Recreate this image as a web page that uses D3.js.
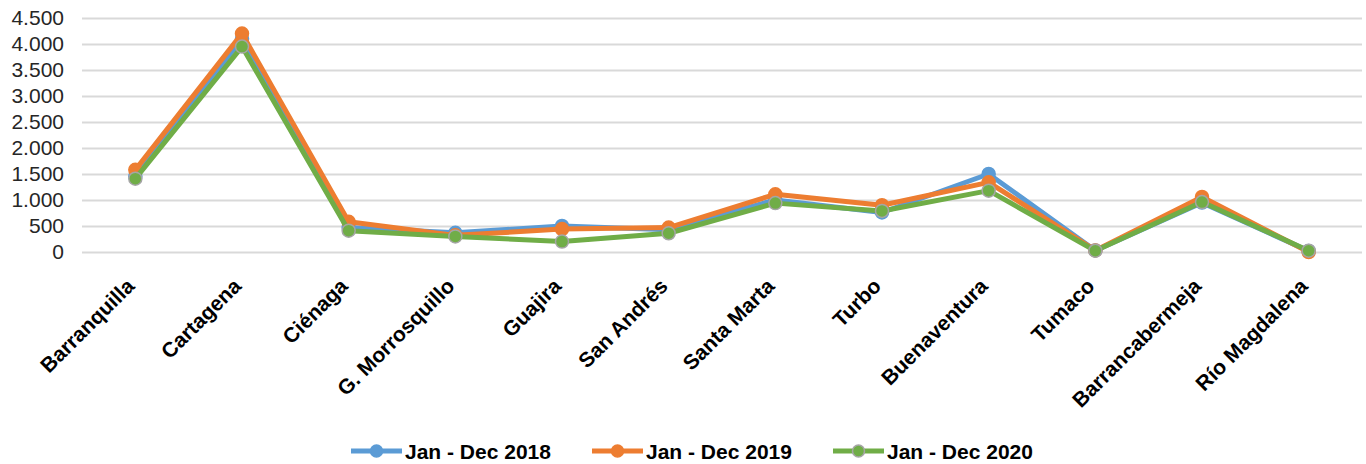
<!DOCTYPE html>
<html>
<head>
<meta charset="utf-8">
<script src="https://cdn.jsdelivr.net/npm/d3@7"></script>
<style>
  body { margin: 0; background: #fff; }
  text { font-family: "Liberation Sans", Arial, sans-serif; }
</style>
</head>
<body>
<div id="chart"></div>
<script>
// data
const categories = ["Barranquilla", "Cartagena", "Ciénaga", "G. Morrosquillo", "Guajira", "San Andrés",
    "Santa Marta", "Turbo", "Buenaventura", "Tumaco", "Barrancabermeja", "Río Magdalena"];
const values2018 = [1450, 4100, 470, 370, 500, 430, 1000, 760, 1500, 30, 950, 20];
const values2019 = [1580, 4200, 580, 320, 440, 470, 1110, 900, 1340, 30, 1060, 0];
const values2020 = [1410, 3950, 410, 300, 200, 360, 940, 790, 1180, 25, 960, 25];
const seriesNames = ["Jan - Dec 2018", "Jan - Dec 2019", "Jan - Dec 2020"];
const yTicks = [0, 500, 1000, 1500, 2000, 2500, 3000, 3500, 4000, 4500];

const colors = ["#5B9BD5", "#ED7D31", "#70AD47"];
const series = [values2018, values2019, values2020].map(function(v, i) {
    return {name: seriesNames[i], color: colors[i], values: v};
});

const width = 1366, height = 464;
const plot = {left: 82, right: 1362, top: 18, bottom: 252};

var svg = d3.select("#chart")
    .append("svg")
    .attr("width", width)
    .attr("height", height);

var x = d3.scalePoint()
    .domain(categories)
    .range([plot.left, plot.right])
    .padding(0.5);

var y = d3.scaleLinear()
    .domain([0, 4500])
    .range([plot.bottom, plot.top]);

// number format with dot as thousands separator
const fmt = d3.formatLocale({decimal: ",", thousands: ".", grouping: [3], currency: ["", ""]}).format(",d");

// gridlines + y labels
var yAxis = svg.append("g")
    .attr("transform", "translate(" + plot.left + ",0)")
    .call(d3.axisLeft(y).tickValues(yTicks).tickFormat(fmt)
        .tickSize(-(plot.right - plot.left)).tickPadding(18));
yAxis.select(".domain").remove();
yAxis.selectAll(".tick line")
    .attr("stroke", "#d9d9d9")
    .attr("stroke-width", 2);
yAxis.selectAll(".tick text")
    .attr("fill", "#262626")
    .style("font-size", "21px")
    .style("font-family", "'Liberation Sans', Arial, sans-serif");

// category labels, rotated
svg.append("g")
    .selectAll("text")
    .data(categories)
    .enter()
    .append("text")
    .attr("transform", function(d) { return "translate(" + (x(d) - 10) + ",277) rotate(-45)"; })
    .attr("text-anchor", "end")
    .attr("dy", "0.7em")
    .attr("fill", "#000")
    .style("font-size", "21px")
    .style("font-weight", "bold")
    .text(function(d) { return d; });

// lines and markers
var line = d3.line()
    .x(function(d, i) { return x(categories[i]); })
    .y(function(d) { return y(d); });

series.forEach(function(s, k) {
    svg.append("path")
        .datum(s.values)
        .attr("fill", "none")
        .attr("stroke", s.color)
        .attr("stroke-width", 5)
        .attr("stroke-linejoin", "round")
        .attr("d", line);

    svg.selectAll(".dot" + k)
        .data(s.values)
        .enter()
        .append("circle")
        .attr("cx", function(d, i) { return x(categories[i]); })
        .attr("cy", function(d) { return y(d); })
        .attr("r", 6.5)
        .attr("fill", s.color)
        .attr("stroke", k == 2 ? "#a5a5a5" : s.color)
        .attr("stroke-width", 1.5);
});

// legend
const legendX = [351, 592, 833];
var legend = svg.append("g")
    .selectAll("g")
    .data(series)
    .enter()
    .append("g")
    .attr("transform", function(d, i) { return "translate(" + legendX[i] + ",451)"; });

legend.append("line")
    .attr("x1", 0).attr("x2", 51)
    .attr("stroke", function(d) { return d.color; })
    .attr("stroke-width", 5);
legend.append("circle")
    .attr("cx", 25.5)
    .attr("r", 6)
    .attr("fill", function(d) { return d.color; })
    .attr("stroke", function(d, i) { return i == 2 ? "#a5a5a5" : d.color; })
    .attr("stroke-width", 1.5);
legend.append("text")
    .attr("x", 54)
    .attr("dy", "0.36em")
    .attr("fill", "#000")
    .style("font-size", "21px")
    .style("font-weight", "bold")
    .text(function(d) { return d.name; });
</script>
</body>
</html>
